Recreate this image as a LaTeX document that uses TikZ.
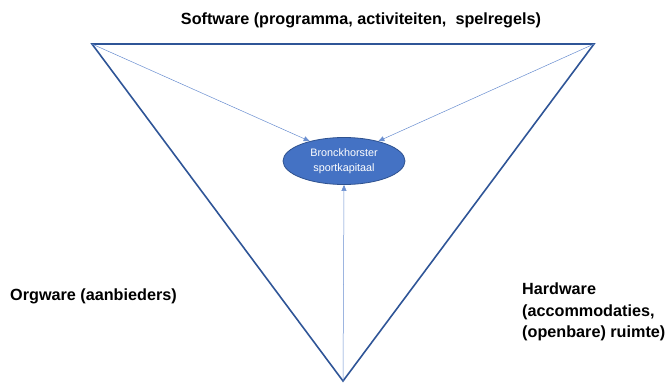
\documentclass[tikz,border=0pt]{standalone}
\usepackage{fontspec}
\setmainfont{Liberation Sans}
\usetikzlibrary{shapes.geometric,arrows.meta}
\definecolor{tri}{HTML}{2F5597}
\definecolor{arr}{HTML}{4472C4}
\definecolor{ellfill}{HTML}{4472C4}
\definecolor{elledge}{HTML}{2F528F}
\tikzset{
  triline/.style={draw=tri,line width=1.6pt,line join=miter},
  conn/.style={draw=arr!80,line width=0.5pt,-{Triangle[length=6pt,width=5pt]}},
  lbl/.style={font=\bfseries\fontsize{16.2}{21.5}\selectfont,text=black,inner sep=0pt},
}
\begin{document}
\begin{tikzpicture}[x=1pt,y=-1pt]
\useasboundingbox (0,0) rectangle (668,383);
\coordinate (tl) at (92,44);
\coordinate (tr) at (594,44);
\coordinate (bt) at (343,381);
\draw[triline] (tl) -- (tr) -- (bt) -- cycle;
\node[ellipse,fill=ellfill,draw=elledge,line width=0.8pt,minimum width=122pt,minimum height=47pt,inner sep=0pt,
  text=white,align=center,font=\fontsize{10.8}{14.5}\selectfont] (e) at (344,161) {Bronckhorster\\sportkapitaal};
\draw[conn] (tl) -- (e.150);
\draw[conn] (tr) -- (e.30);
\draw[conn] (bt) -- (e.south);
\node[lbl,anchor=center] (sw) at (361,20) {Software (programma, activiteiten,\ \ spelregels)};
\node[lbl,anchor=west] (ow) at (10,296) {Orgware (aanbieders)};
\node[lbl,anchor=north west,align=left] (hw) at (522,283) {Hardware\\(accommodaties,\\(openbare) ruimte)};
\end{tikzpicture}
\end{document}
